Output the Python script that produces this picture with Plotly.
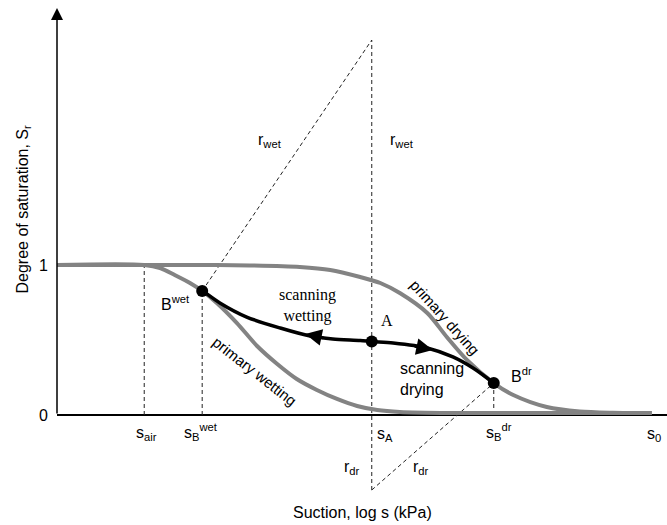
import plotly.graph_objects as go

# ---------------- data (suction in log units, degree of saturation Sr) ----------------
drying_s = [0, 2.34, 3.16, 3.98, 4.48, 4.97, 5.30, 5.62, 6.07, 6.39, 6.72, 7.16, 7.48, 8.03, 8.57, 9.11, 9.75]
drying_Sr = [1.0, 1.0, 0.997, 0.987, 0.967, 0.92, 0.88, 0.813, 0.68, 0.52, 0.367, 0.213, 0.133, 0.053, 0.023, 0.015, 0.013]

wetting_s = [0, 1.43, 1.69, 1.93, 2.18, 2.38, 2.62, 2.95, 3.28, 3.61, 3.93, 4.26, 4.59, 4.92, 5.25, 5.62, 6.44, 9.75]
wetting_Sr = [1.0, 1.0, 0.98, 0.933, 0.88, 0.827, 0.747, 0.613, 0.46, 0.34, 0.24, 0.167, 0.107, 0.06, 0.033, 0.02, 0.013, 0.013]

scanning_s = [2.39, 2.67, 3.11, 3.66, 4.15, 4.52, 4.97, 5.16, 5.51, 6.07, 6.49, 6.82, 7.16]
scanning_Sr = [0.827, 0.747, 0.653, 0.58, 0.527, 0.507, 0.497, 0.49, 0.48, 0.447, 0.387, 0.313, 0.213]

point_names = ["Bwet", "A", "Bdr"]
point_s = [2.38, 5.16, 7.16]
point_Sr = [0.827, 0.49, 0.213]

s_air = 1.43
s_0 = 9.75
r_top = 2.5
r_bottom = -0.5

# arrow heads on the scanning curve: (tail, tip)
arrow_wet_s = [4.39, 4.07]
arrow_wet_Sr = [0.513, 0.54]
arrow_dry_s = [5.84, 6.16]
arrow_dry_Sr = [0.46, 0.433]

SANS = "Liberation Sans, Arial, sans-serif"
SERIF = "Liberation Serif, Times New Roman, serif"
GREY = "#838383"

fig = go.Figure()

# construction (dashed) lines built from the key values
sBw, sA, sBd = point_s
SrBw, SrA, SrBd = point_Sr
dash_x = [s_air, s_air, None, sBw, sBw, None, sA, sA, None, sBd, sBd, None,
          sBw, sA, None, sA, sBd]
dash_y = [0, 1, None, 0, SrBw, None, r_bottom, r_top, None, 0, SrBd, None,
          SrBw, r_top, None, r_bottom, SrBd]
fig.add_trace(go.Scatter(x=dash_x, y=dash_y, mode="lines",
                         line=dict(color="#222222", width=1, dash="4px,3px"),
                         hoverinfo="skip", showlegend=False))

fig.add_trace(go.Scatter(x=drying_s, y=drying_Sr, mode="lines",
                         line=dict(color=GREY, width=4, shape="spline", smoothing=0.8),
                         showlegend=False))
fig.add_trace(go.Scatter(x=wetting_s, y=wetting_Sr, mode="lines",
                         line=dict(color=GREY, width=4, shape="spline", smoothing=0.8),
                         showlegend=False))
fig.add_trace(go.Scatter(x=scanning_s, y=scanning_Sr, mode="lines",
                         line=dict(color="black", width=3.5, shape="spline", smoothing=0.8),
                         showlegend=False))
fig.add_trace(go.Scatter(x=point_s, y=point_Sr, mode="markers",
                         marker=dict(color="black", size=12),
                         text=point_names, showlegend=False, cliponaxis=False))

ann = []
# y-axis with arrow
ann.append(dict(x=0, y=2.713, ax=0, ay=0, xref="x", yref="y", axref="x", ayref="y",
                text="", showarrow=True, arrowhead=2, arrowsize=1.6, arrowwidth=1.5,
                arrowcolor="black"))
# arrow heads on scanning curve
for xs, ys in [(arrow_wet_s, arrow_wet_Sr), (arrow_dry_s, arrow_dry_Sr)]:
    ann.append(dict(x=xs[1], y=ys[1], ax=xs[0], ay=ys[0], xref="x", yref="y",
                    axref="x", ayref="y", text="", showarrow=True, arrowhead=2,
                    arrowsize=1.1, arrowwidth=3, arrowcolor="black"))


def label(text, x, y, size=16, font=SANS, xanchor="center", angle=0, align="center"):
    ann.append(dict(x=x, y=y, xref="x", yref="y", text=text, showarrow=False,
                    xanchor=xanchor, yanchor="middle", textangle=angle, align=align,
                    font=dict(family=font, size=size, color="black")))


label("s<sub>air</sub>", 1.475, -0.12)
label("s<sub>B</sub><sup>wet</sup>", 2.36, -0.11)
label("s<sub>A</sub>", 5.21, -0.13, xanchor="left")
label("s<sub>B</sub><sup>dr</sup>", 7.25, -0.11)
label("s<sub>0</sub>", 9.79, -0.13)
label("r<sub>dr</sub>", 4.84, -0.353)
label("r<sub>dr</sub>", 5.97, -0.353)
label("r<sub>wet</sub>", 3.49, 1.833)
label("r<sub>wet</sub>", 5.66, 1.833)
label("B<sup>wet</sup>", 1.95, 0.747)
label("B<sup>dr</sup>", 7.62, 0.267)
label("A", 5.41, 0.627, font=SERIF)
label("scanning<br>wetting", 4.1, 0.727, font=SERIF)
label("scanning<br>drying", 5.59, 0.24, xanchor="left", align="left")
label("primary drying", 6.36, 0.647, size=15, angle=48)
label("primary wetting", 3.25, 0.293, size=15, angle=38)

# axis titles
ann.append(dict(x=0, y=1.37, xref="paper", yref="y", xshift=-34, text="Degree of saturation, S<sub>r</sub>",
                showarrow=False, textangle=-90, xanchor="center", yanchor="middle",
                font=dict(family=SANS, size=16, color="black")))
ann.append(dict(x=0.5, y=0, xref="paper", yref="paper", yshift=-7, text="Suction, log s (kPa)",
                showarrow=False, xanchor="center", yanchor="middle",
                font=dict(family=SANS, size=16, color="black")))

fig.update_layout(
    width=667, height=525,
    margin=dict(l=57, r=0, t=1, b=20),
    paper_bgcolor="white", plot_bgcolor="white",
    annotations=ann,
    xaxis=dict(range=[0, 10], showgrid=False, zeroline=False, showline=False,
               showticklabels=False, ticks=""),
    yaxis=dict(range=[-0.6, 2.76], showgrid=False, zeroline=True, zerolinecolor="black",
               zerolinewidth=1.5, showline=False, tickvals=[0, 1], ticktext=["0", "1"],
               ticks="", ticklabelstandoff=8,
               tickfont=dict(family=SANS, size=16, color="black")),
    showlegend=False,
)

fig.write_html("out.html", config={"displayModeBar": False},
               post_script="document.body.style.margin='0';document.body.style.padding='0';")
